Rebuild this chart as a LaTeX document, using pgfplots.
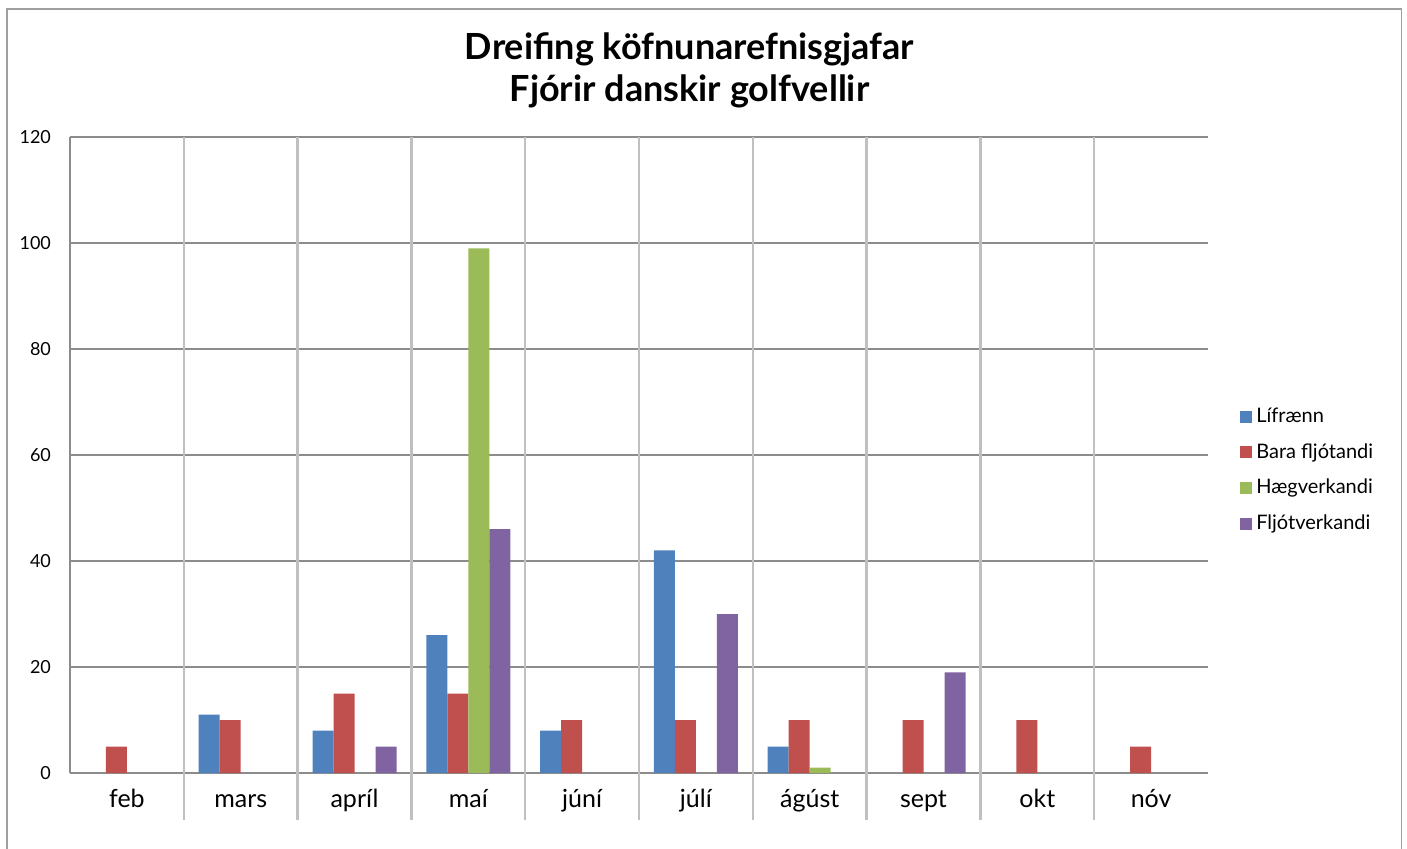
\documentclass[border=0pt]{standalone}
\usepackage{pgfplots}
\pgfplotsset{compat=1.18}
\usepackage{fontspec}
\setmainfont{Lato}
\definecolor{cblue}{HTML}{4F81BD}
\definecolor{cred}{HTML}{C0504D}
\definecolor{cgreen}{HTML}{9BBB59}
\definecolor{cpurple}{HTML}{8064A2}
\definecolor{gridc}{HTML}{8C8C8C}
\definecolor{sepc}{HTML}{C0C0C0}
\begin{document}
\begin{tikzpicture}
\useasboundingbox (0,0) rectangle (703.5pt,424pt);
\draw[color=gray!75, line width=0.7pt] (3.5pt,-5pt) rectangle (700.6pt,419.5pt);
\node[font=\fontsize{18}{21}\selectfont\bfseries] at (344.75pt,399.5pt) {Dreifing köfnunarefnisgjafar};
\node[font=\fontsize{18}{21}\selectfont\bfseries] at (344.75pt,378.5pt) {Fjórir danskir golfvellir};
\begin{axis}[
  at={(35pt,37.5pt)}, anchor=south west,
  scale only axis, width=569pt, height=318pt,
  ybar=0pt, bar width=10.5pt,
  xmin=-0.5, xmax=9.5, ymin=0, ymax=120,
  ytick={0,20,...,120},
  xtick={0,...,9},
  xticklabels={feb,mars,apríl,maí,júní,júlí,ágúst,sept,okt,nóv},
  axis x line*=bottom, axis y line*=left,
  axis line style={color=gridc, line width=0.6pt},
  ymajorgrids, major grid style={color=gridc, line width=0.6pt},
  major tick length=0pt,
  /pgf/number format/assume math mode=true,
  yticklabel style={font=\fontsize{9}{10}\selectfont, anchor=east, xshift=-6pt},
  xticklabel style={font=\fontsize{12.5}{15}\selectfont, anchor=base, yshift=-17pt},
  extra x ticks={0.5,1.5,...,8.5},
  extra x tick labels={},
  extra x tick style={xmajorgrids=true, ymajorgrids=false, major tick length=23.5pt, tick align=outside,
     tick style={color=sepc, line width=1.25pt},
     major grid style={color=sepc, line width=1.25pt}},
  legend style={draw=none, at={(1.028,0.476)}, anchor=west, inner sep=0pt,
     font=\fontsize{10}{11}\selectfont, row sep=5pt},
  legend cell align=left,
  legend image code/.code={\fill[#1] (0pt,-3pt) rectangle (6pt,3pt);},
]
\addplot[fill=cblue, draw=none] coordinates {(1,11) (2,8) (3,26) (4,8) (5,42) (6,5)};
\addplot[fill=cred, draw=none] coordinates {(0,5) (1,10) (2,15) (3,15) (4,10) (5,10) (6,10) (7,10) (8,10) (9,5)};
\addplot[fill=cgreen, draw=none] coordinates {(3,99) (6,1)};
\addplot[fill=cpurple, draw=none] coordinates {(2,5) (3,46) (5,30) (7,19)};
\legend{Lífrænn, Bara fljótandi, Hægverkandi, Fljótverkandi}
\end{axis}
\end{tikzpicture}
\end{document}
